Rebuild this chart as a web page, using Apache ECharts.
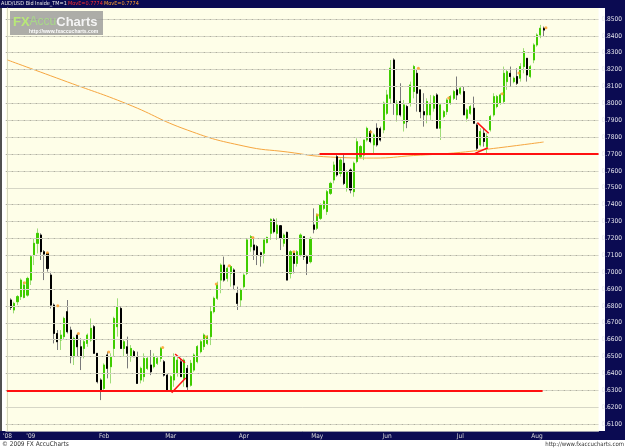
<!DOCTYPE html>
<html><head><meta charset="utf-8">
<script src="https://cdn.jsdelivr.net/npm/echarts@6/dist/echarts.min.js"></script>
<style>html,body{margin:0;padding:0;background:#fff}#c{width:625px;height:448px}</style>
</head><body><div id="c"></div>
<script>
// ---- categories: trading days ----
const dates = ("2008-12-23 2008-12-24 2008-12-25 2008-12-26 2008-12-29 2008-12-30 2008-12-31 " +
"2009-01-01 2009-01-02 2009-01-05 2009-01-06 2009-01-07 2009-01-08 2009-01-09 2009-01-12 2009-01-13 2009-01-14 2009-01-15 2009-01-16 2009-01-19 2009-01-20 2009-01-21 2009-01-22 2009-01-23 2009-01-26 2009-01-27 2009-01-28 2009-01-29 2009-01-30 " +
"2009-02-02 2009-02-03 2009-02-04 2009-02-05 2009-02-06 2009-02-09 2009-02-10 2009-02-11 2009-02-12 2009-02-13 2009-02-16 2009-02-17 2009-02-18 2009-02-19 2009-02-20 2009-02-23 2009-02-24 2009-02-25 2009-02-26 2009-02-27 " +
"2009-03-02 2009-03-03 2009-03-04 2009-03-05 2009-03-06 2009-03-09 2009-03-10 2009-03-11 2009-03-12 2009-03-13 2009-03-16 2009-03-17 2009-03-18 2009-03-19 2009-03-20 2009-03-23 2009-03-24 2009-03-25 2009-03-26 2009-03-27 2009-03-30 2009-03-31 " +
"2009-04-01 2009-04-02 2009-04-03 2009-04-06 2009-04-07 2009-04-08 2009-04-09 2009-04-10 2009-04-13 2009-04-14 2009-04-15 2009-04-16 2009-04-17 2009-04-20 2009-04-21 2009-04-22 2009-04-23 2009-04-24 2009-04-27 2009-04-28 2009-04-29 2009-04-30 " +
"2009-05-01 2009-05-04 2009-05-05 2009-05-06 2009-05-07 2009-05-08 2009-05-11 2009-05-12 2009-05-13 2009-05-14 2009-05-15 2009-05-18 2009-05-19 2009-05-20 2009-05-21 2009-05-22 2009-05-25 2009-05-26 2009-05-27 2009-05-28 2009-05-29 " +
"2009-06-01 2009-06-02 2009-06-03 2009-06-04 2009-06-05 2009-06-08 2009-06-09 2009-06-10 2009-06-11 2009-06-12 2009-06-15 2009-06-16 2009-06-17 2009-06-18 2009-06-19 2009-06-22 2009-06-23 2009-06-24 2009-06-25 2009-06-26 2009-06-29 2009-06-30 " +
"2009-07-01 2009-07-02 2009-07-03 2009-07-06 2009-07-07 2009-07-08 2009-07-09 2009-07-10 2009-07-13 2009-07-14 2009-07-15 2009-07-16 2009-07-17 2009-07-20 2009-07-21 2009-07-22 2009-07-23 2009-07-24 2009-07-27 2009-07-28 2009-07-29 2009-07-30 2009-07-31 " +
"2009-08-03 2009-08-04 2009-08-05 2009-08-06 2009-08-07 2009-08-10 2009-08-11 2009-08-12 2009-08-13 2009-08-14 2009-08-17 2009-08-18 2009-08-19 2009-08-20 2009-08-21 2009-08-24 2009-08-25 2009-08-26 2009-08-27").split(" ");

const monthNames = ["Jan","Feb","Mar","Apr","May","Jun","Jul","Aug","Sep","Oct","Nov","Dec"];

// ---- daily candles [open, close, low, high] ----
const ohlc = [
['-','-','-','-'],
[0.6835,0.6791,0.6776,0.6845],[0.6776,0.6815,0.6756,0.6825],[0.6825,0.6855,0.6805,0.6864],[0.6855,0.6953,0.6835,0.6963],
[0.6850,0.6924,0.6845,0.6943],[0.6864,0.6963,0.6855,0.6973],[0.6953,0.7092,0.6924,0.7101],[0.7101,0.7171,0.7042,0.7200],
[0.7171,0.7230,0.7111,0.7259],[0.7220,0.7121,0.7072,0.7230],[0.7121,0.7107,0.6953,0.7131],[0.7111,0.7022,0.7003,0.7115],
[0.6983,0.6805,0.6785,0.7003],[0.6805,0.6637,0.6578,0.6815],[0.6637,0.6588,0.6539,0.6657],[0.6598,0.6627,0.6539,0.6657],
[0.6618,0.6726,0.6598,0.6736],[0.6766,0.6647,0.6637,0.6835],[0.6657,0.6499,0.6460,0.6677],[0.6499,0.6608,0.6450,0.6618],
[0.6627,0.6558,0.6499,0.6637],[0.6558,0.6499,0.6420,0.6608],[0.6548,0.6588,0.6489,0.6598],[0.6578,0.6627,0.6558,0.6637],
[0.6598,0.6667,0.6588,0.6726],[0.6677,0.6519,0.6519,0.6687],[0.6519,0.6351,0.6341,0.6519],[0.6361,0.6302,0.6242,0.6371],
[0.6311,0.6450,0.6302,0.6460],[0.6509,0.6430,0.6371,0.6529],[0.6440,0.6499,0.6341,0.6519],[0.6548,0.6726,0.6499,0.6736],
[0.6677,0.6795,0.6618,0.6845],[0.6785,0.6548,0.6548,0.6795],[0.6548,0.6588,0.6499,0.6598],[0.6558,0.6519,0.6430,0.6618],
[0.6499,0.6548,0.6469,0.6568],[0.6529,0.6499,0.6499,0.6539],[0.6499,0.6341,0.6341,0.6529],[0.6361,0.6430,0.6341,0.6440],
[0.6381,0.6489,0.6351,0.6519],[0.6430,0.6489,0.6420,0.6499],[0.6450,0.6410,0.6390,0.6539],[0.6440,0.6499,0.6430,0.6519],
[0.6460,0.6489,0.6450,0.6499],[0.6489,0.6548,0.6469,0.6558],[0.6469,0.6390,0.6381,0.6479],[0.6390,0.6302,0.6292,0.6400],
[0.6302,0.6381,0.6292,0.6390],[0.6361,0.6499,0.6321,0.6519],[0.6400,0.6479,0.6381,0.6499],[0.6469,0.6381,0.6381,0.6489],
[0.6371,0.6479,0.6321,0.6489],[0.6430,0.6320,0.6302,0.6450],[0.6330,0.6460,0.6322,0.6480],[0.6420,0.6509,0.6410,0.6519],
[0.6470,0.6559,0.6460,0.6568],[0.6529,0.6588,0.6519,0.6598],[0.6559,0.6628,0.6539,0.6638],[0.6578,0.6618,0.6568,0.6628],
[0.6618,0.6766,0.6568,0.6796],[0.6766,0.6845,0.6756,0.6855],[0.6845,0.6924,0.6835,0.6944],[0.6953,0.7042,0.6875,0.7052],
[0.7042,0.6953,0.6944,0.7092],[0.6963,0.7023,0.6944,0.7033],[0.6993,0.7033,0.6914,0.7042],[0.7013,0.6924,0.6894,0.7023],
[0.6875,0.6815,0.6776,0.6914],[0.6835,0.6894,0.6796,0.6904],[0.6914,0.6983,0.6904,0.6993],[0.6993,0.7191,0.6983,0.7200],
[0.7151,0.7210,0.7121,0.7220],[0.7161,0.7131,0.7072,0.7206],[0.7151,0.7102,0.7042,0.7161],[0.7115,0.7096,0.7033,0.7121],
[0.7112,0.7191,0.7052,0.7191],[0.7175,0.7206,0.7171,0.7210],[0.7230,0.7313,0.7191,0.7319],[0.7309,0.7240,0.7230,0.7319],
[0.7230,0.7279,0.7191,0.7319],[0.7275,0.7200,0.7131,0.7279],[0.7171,0.7220,0.7151,0.7230],[0.7236,0.6953,0.6953,0.7240],
[0.6993,0.7121,0.6963,0.7131],[0.7112,0.7052,0.6993,0.7121],[0.7052,0.7121,0.7033,0.7131],[0.7102,0.7220,0.7092,0.7230],
[0.7210,0.7092,0.7072,0.7210],[0.7092,0.7052,0.6983,0.7102],[0.7062,0.7200,0.7052,0.7210],[0.7280,0.7254,0.7230,0.7378],
[0.7260,0.7339,0.7250,0.7349],[0.7319,0.7398,0.7309,0.7408],[0.7378,0.7420,0.7368,0.7428],[0.7359,0.7477,0.7339,0.7487],
[0.7467,0.7526,0.7457,0.7536],[0.7546,0.7635,0.7526,0.7655],[0.7684,0.7576,0.7566,0.7704],[0.7585,0.7664,0.7566,0.7674],
[0.7645,0.7526,0.7516,0.7694],[0.7497,0.7595,0.7477,0.7605],[0.7605,0.7487,0.7467,0.7615],[0.7477,0.7645,0.7447,0.7655],
[0.7655,0.7773,0.7645,0.7793],[0.7684,0.7744,0.7674,0.7753],[0.7694,0.7783,0.7664,0.7783],[0.7783,0.7852,0.7773,0.7862],
[0.7833,0.7774,0.7764,0.7843],[0.7754,0.7813,0.7704,0.7823],[0.7853,0.7754,0.7744,0.7882],[0.7850,0.7783,0.7774,0.7862],
[0.7843,0.8001,0.7823,0.8011],[0.7941,0.8050,0.7932,0.8080],[0.8030,0.8208,0.8001,0.8257],[0.8257,0.8001,0.7932,0.8267],
[0.7932,0.8001,0.7892,0.8020],[0.8011,0.7932,0.7922,0.8119],[0.7882,0.7991,0.7833,0.8020],[0.7981,0.7892,0.7853,0.7991],
[0.8001,0.8109,0.7981,0.8129],[0.8070,0.8218,0.8030,0.8228],[0.8178,0.8060,0.7951,0.8198],[0.8080,0.7951,0.7912,0.8080],
[0.7951,0.7932,0.7862,0.8060],[0.7932,0.8011,0.7882,0.8030],[0.7932,0.8001,0.7902,0.8050],[0.7971,0.8040,0.7951,0.8050],
[0.8050,0.7853,0.7853,0.8060],[0.7853,0.7991,0.7783,0.8001],[0.7922,0.7951,0.7912,0.7961],[0.7951,0.8020,0.7932,0.8030],
[0.8001,0.8040,0.7991,0.8050],[0.8030,0.8070,0.8020,0.8080],[0.8080,0.8050,0.8020,0.8159],[0.8060,0.8090,0.8050,0.8099],
[0.8070,0.7932,0.7932,0.8099],[0.7912,0.7961,0.7892,0.7971],[0.7941,0.7981,0.7932,0.7991],[0.7971,0.7882,0.7882,0.8040],
[0.7872,0.7734,0.7724,0.7882],[0.7754,0.7833,0.7744,0.7853],[0.7823,0.7774,0.7744,0.7853],[0.7744,0.7803,0.7704,0.7823],
[0.7843,0.7922,0.7833,0.7932],[0.7932,0.8040,0.7922,0.8060],[0.7981,0.8040,0.7971,0.8050],[0.8001,0.8050,0.7991,0.8060],
[0.8011,0.8178,0.8001,0.8218],[0.8129,0.8188,0.8080,0.8198],[0.8178,0.8159,0.8099,0.8218],[0.8129,0.8149,0.8119,0.8159],
[0.8159,0.8119,0.8109,0.8208],[0.8149,0.8218,0.8129,0.8238],[0.8218,0.8307,0.8178,0.8327],[0.8267,0.8168,0.8129,0.8267],
[0.8159,0.8218,0.8149,0.8228],[0.8257,0.8346,0.8238,0.8356],[0.8346,0.8405,0.8336,0.8415],[0.8405,0.8445,0.8386,0.8465],
[0.8445,0.8434,0.8396,0.8455]
];

// ---- moving average (read at sample bars) ----
const maIdx = [0, 18, 36, 54, 71, 84, 97, 110, 122, 134, 146, 161];
const maVal = [0.8257, 0.8127, 0.7996, 0.7842, 0.7747, 0.7712, 0.7682, 0.7676, 0.7691, 0.7706, 0.7733, 0.7771];

// ---- small orange markers ----
const dotIdx = [5.1, 12.0, 15.1, 21.3, 30.4, 46.6, 59.6, 62.7, 66.6, 73.7, 86.0, 93.1, 109.1, 123.4, 132.5, 148.6, 153.6, 161.7];
const dotVal = [0.6937, 0.7115, 0.6801, 0.6637, 0.6527, 0.6554, 0.6617, 0.6930, 0.7038, 0.7206, 0.7121, 0.7339, 0.7830, 0.8208, 0.8032, 0.8057, 0.8180, 0.8448];

// ---- drawn support lines and triangles [fromIdx, fromPrice, toIdx, toPrice] ----
const supportLines = [[-0.2, 0.6300, 160.7, 0.6300], [93.7, 0.7700, 177.5, 0.7700]];
const triangleLines = [
  [50.35, 0.6515, 53.3, 0.6463], [49.3, 0.6285, 53.5, 0.6373],
  [141.1, 0.7886, 144.5, 0.7823], [140.4, 0.7704, 144.3, 0.7737]
];

// ---- price tick labels ----
const yTicks = [0.61,0.62,0.63,0.64,0.65,0.66,0.67,0.68,0.69,0.70,0.71,0.72,0.73,0.74,0.75,0.76,0.77,0.78,0.79,0.80,0.81,0.82,0.83,0.84,0.85];
const yHalfTicks = yTicks.map(v => +(v + 0.005).toFixed(4));

const lastClose = ohlc[ohlc.length - 1][1];
// bodies only (same candles, wick trimmed to body) for two-tone drawing
const bodies = ohlc.map(d => d[0] === '-' ? d : [d[0], d[1], Math.min(d[0], d[1]), Math.max(d[0], d[1])]);

const NAVY = '#0b0b52';
const RED = '#ff1010';
const FONT = "'Liberation Sans Narrow','DejaVu Sans Condensed','Liberation Sans',sans-serif";

function isLabelIdx(i) {
  if (i === 0) return true;
  return dates[i].slice(5, 7) !== dates[i - 1].slice(5, 7);
}
function labelText(i) {
  if (i === 0) return "'" + dates[0].slice(2, 4);
  const m = +dates[i].slice(5, 7);
  if (m === 1) return "'" + dates[i].slice(2, 4);
  return monthNames[m - 1];
}

const lineSeries = (arr, color, width, z) => arr.map(s => ({
  type: 'line', xAxisIndex: 1, yAxisIndex: 0, z: z, silent: true,
  symbol: 'none', data: [[s[0], s[1]], [s[2], s[3]]],
  lineStyle: { color: color, width: width, opacity: 1 }
}));

const chart = echarts.init(document.getElementById('c'), null, { renderer: 'canvas' });
chart.setOption({
  animation: false,
  backgroundColor: '#ffffff',
  grid: { left: 2, right: 20, top: 8, bottom: 17, show: true, backgroundColor: '#fefee8', borderWidth: 0 },
  xAxis: [{
    type: 'category', data: dates, boundaryGap: true,
    axisLine: { show: true, lineStyle: { color: '#9a9aa8', width: 1 } },
    axisTick: { show: false },
    splitLine: { show: false },
    axisLabel: {
      interval: (i) => isLabelIdx(i),
      formatter: (v, i) => labelText(i),
      color: '#d8d8d8', fontSize: 6.5, fontFamily: FONT, margin: 2
    }
  }, {
    type: 'value', min: -0.5, max: dates.length - 0.5, show: false
  }],
  yAxis: [{
    type: 'value', position: 'right', min: 0.6059, max: 0.8565,
    axisLine: { show: true, lineStyle: { color: '#d8d8c0', width: 1 } },
    axisTick: { show: false, customValues: yTicks },
    splitLine: { show: false },
    axisLabel: {
      customValues: yTicks, formatter: v => (+v).toFixed(4),
      color: '#e4e4ec', fontSize: 6.5, fontFamily: FONT, margin: 3
    }
  }],
  graphic: [
    { type: 'rect', z: -1, shape: { x: 0, y: 0, width: 625, height: 8 }, style: { fill: NAVY } },
    { type: 'rect', z: -1, shape: { x: 605, y: 0, width: 20, height: 440 }, style: { fill: NAVY } },
    { type: 'rect', z: -1, shape: { x: 0, y: 431, width: 625, height: 9 }, style: { fill: NAVY } },
    { type: 'rect', z: 20, shape: { x: 0, y: 8, width: 2, height: 423 }, style: { fill: '#505050' } },
    { type: 'text', z: 20, x: 1, y: 4, style: { text: 'AUD/USD Bid Inside_TM=1', fill: '#e8e8e8', font: "5.5px " + FONT, textVerticalAlign: 'middle' } },
    { type: 'text', z: 20, x: 68, y: 4, style: { text: 'MovE=0.7774', fill: '#ff3030', font: "5.5px " + FONT, textVerticalAlign: 'middle' } },
    { type: 'text', z: 20, x: 104, y: 4, style: { text: 'MovE=0.7774', fill: '#ffa030', font: "5.5px " + FONT, textVerticalAlign: 'middle' } },
    { type: 'rect', z: 20, shape: { x: 10, y: 11, width: 93, height: 24 }, style: { fill: 'rgba(150,150,150,0.78)' } },
    { type: 'text', z: 21, x: 13, y: 22, style: {
        text: '{a|FX}{b|Accu}{c|Charts}', textVerticalAlign: 'middle',
        rich: {
          a: { fill: '#b8e878', font: "bold 13px 'Liberation Sans',sans-serif" },
          b: { fill: '#a8d888', font: "12px 'Liberation Sans',sans-serif" },
          c: { fill: '#f4f4f4', font: "bold 13px 'Liberation Sans',sans-serif" }
        } } },
    { type: 'text', z: 21, x: 29, y: 32, style: { text: 'http://www.fxaccucharts.com', fill: '#ffffff', font: "bold 5px 'Liberation Sans',sans-serif", textVerticalAlign: 'middle' } },
    { type: 'text', z: 20, x: 2, y: 444.5, style: { text: '\u00a9 2009 FX AccuCharts', fill: '#333333', font: "6.5px " + FONT, textVerticalAlign: 'middle' } },
    { type: 'text', z: 20, x: 624, y: 444.5, style: { text: 'http://www.fxaccucharts.com', fill: '#333333', font: "6px " + FONT, textVerticalAlign: 'middle', textAlign: 'right' } }
  ],
  series: [
    { type: 'line', xAxisIndex: 1, data: [], z: 1, silent: true,
      markLine: { silent: true, symbol: 'none', animation: false, label: { show: false },
        lineStyle: { color: '#d6d6c6', width: 1, type: 'solid' },
        data: yTicks.map(v => ({ yAxis: v })) } },
    { type: 'line', xAxisIndex: 1, data: [], z: 1, silent: true,
      markLine: { silent: true, symbol: 'none', animation: false, label: { show: false },
        lineStyle: { color: '#a8a898', width: 1, type: [1, 5] },
        data: yHalfTicks.map(v => ({ yAxis: v })) } },
    { type: 'line', xAxisIndex: 1, z: 2, silent: true, symbol: 'none', smooth: 0.5,
      data: maIdx.map((x, i) => [x, maVal[i]]),
      lineStyle: { color: '#f6a640', width: 1 } },
    { type: 'candlestick', xAxisIndex: 0, z: 3, data: ohlc, barWidth: 1.6, silent: true,
      itemStyle: { color: '#9edc78', color0: '#7a7a7a', borderColor: '#9edc78', borderColor0: '#7a7a7a', borderWidth: 1 },
      markLine: { silent: true, symbol: 'none', animation: false,
        lineStyle: { opacity: 0 },
        label: { show: true, position: 'end', distance: 2, formatter: () => lastClose.toFixed(4),
          backgroundColor: '#ffff00', color: '#202020', fontSize: 6, fontFamily: FONT, padding: [1, 1, 0, 1] },
        data: [{ yAxis: lastClose }] } },
    { type: 'candlestick', xAxisIndex: 0, z: 3, data: bodies, barWidth: 1.6, silent: true,
      itemStyle: { color: '#3fcc00', color0: '#000000', borderColor: '#3fcc00', borderColor0: '#000000', borderWidth: 1 } },
    { type: 'line', xAxisIndex: 1, data: [], z: 4, silent: true,
      markLine: { silent: true, symbol: 'none', animation: false, label: { show: false },
        lineStyle: { color: RED, width: 2, type: 'solid', opacity: 1 },
        emphasis: { disabled: true },
        data: supportLines.map(s => [{ coord: [s[0], s[1]] }, { coord: [s[2], s[3]] }]) } },
    ...lineSeries(triangleLines, RED, 1.5, 4),
    { type: 'scatter', xAxisIndex: 1, z: 5, silent: true, symbolSize: 3,
      data: dotIdx.map((x, i) => [x, dotVal[i]]), itemStyle: { color: '#ff9a20' } }
  ]
});
</script>
</body></html>
